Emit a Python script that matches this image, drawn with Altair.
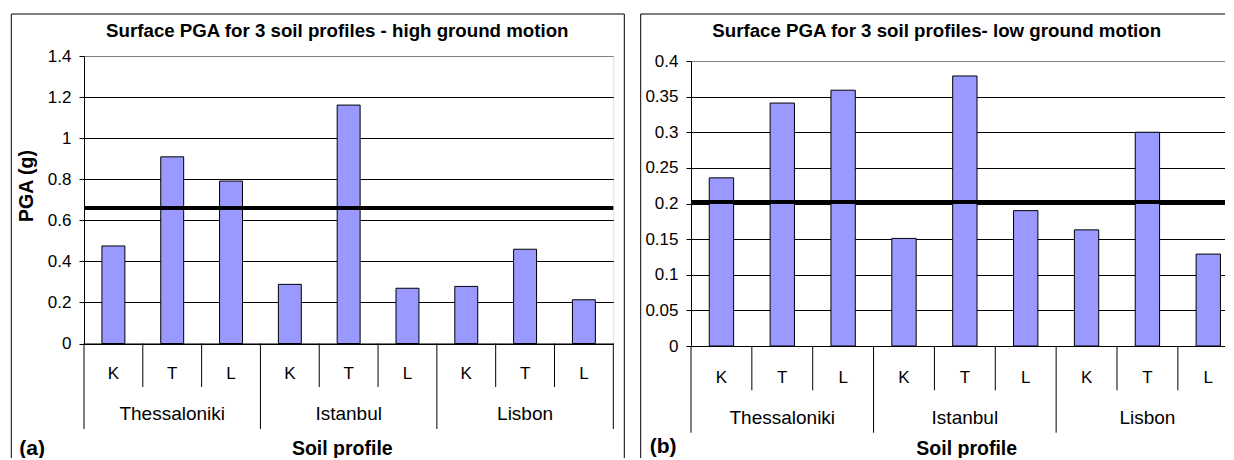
import altair as alt
import pandas as pd

# ---- data ----
cities = ["Thessaloniki", "Istanbul", "Lisbon"]
soils = ["K", "T", "L"]
pga_high = [0.475, 0.909, 0.791, 0.288, 1.161, 0.269, 0.278, 0.459, 0.213]
pga_low = [0.236, 0.341, 0.359, 0.151, 0.379, 0.190, 0.163, 0.300, 0.129]
threshold_high = [0.66]
threshold_low = [0.202]
yticks_high = [0, 0.2, 0.4, 0.6, 0.8, 1.0, 1.2, 1.4]
yticks_low = [0, 0.05, 0.1, 0.15, 0.2, 0.25, 0.3, 0.35, 0.4]
title_high = "Surface PGA for 3 soil profiles - high ground motion"
title_low = "Surface PGA for 3 soil profiles- low ground motion"
x_title = "Soil profile"
y_title = "PGA (g)"

FONT = "Liberation Sans"
BAR = "#9999FF"

cats = [f"{c}|{s}" for c in cities for s in soils]


def panel(values, thr, yticks, title, tag, g):
    W, H = g["W"], g["H"]
    df = pd.DataFrame({
        "cat": cats,
        "city": [c for c in cities for _ in soils],
        "soil": [s for _ in cities for s in soils],
        "pga": values,
    })
    xscale = alt.Scale(domain=cats, paddingInner=0, paddingOuter=0)
    yscale = alt.Scale(domain=[yticks[0], yticks[-1]], nice=False, range=[H, g["top"]])

    xaxis = alt.Axis(
        ticks=False, domain=True, domainColor="black", domainWidth=1,
        labelExpr="split(datum.label, '|')[1]", labelAngle=0,
        labelFontSize=17, labelFont=FONT, labelColor="black",
        labelBaseline="middle", labelPadding=g["lp"], grid=False, title=None,
    )
    yaxis = alt.Axis(
        values=yticks, format="~g", domain=True, domainColor="black",
        ticks=True, tickSize=5, tickColor="black", labelPadding=8,
        labelFontSize=17, labelFont=FONT, labelColor="black",
        grid=True,
        gridColor={"condition": {"test": f"datum.value >= {yticks[-1]}", "value": "#808080"}, "value": "black"},
        gridWidth=1, title=None,
    )

    one = pd.DataFrame({"k": [0]})

    frame = alt.Chart(one).mark_rect(fillOpacity=0, stroke="black", strokeWidth=1).encode(
        x=alt.value(g["fl"]), x2=alt.value(W + g["fr"]),
        y=alt.value(g["ft"]), y2=alt.value(H + g["fb"]),
    )

    bars = alt.Chart(df).mark_bar(
        width=alt.RelativeBandSize(g["bw"]), fill=BAR, stroke="black", strokeWidth=1
    ).encode(
        x=alt.X("cat:N", scale=xscale, axis=xaxis),
        y=alt.Y("pga:Q", scale=yscale, axis=yaxis),
    )

    tdf = pd.DataFrame({"thr": thr})
    thr_rule = alt.Chart(tdf).mark_rule(color="black", strokeWidth=4).encode(
        y=alt.Y("thr:Q", scale=yscale, axis=yaxis),
    )

    inner = df[df["soil"] != soils[0]]
    inner_rules = alt.Chart(inner).mark_rule(color="black", strokeWidth=1).encode(
        x=alt.X("cat:N", scale=xscale, axis=xaxis, bandPosition=0),
        y=alt.value(H), y2=alt.value(H + g["inner"]),
    )
    starts = df[df["soil"] == soils[0]]
    city_rules = alt.Chart(starts).mark_rule(color="black", strokeWidth=1).encode(
        x=alt.X("cat:N", scale=xscale, axis=xaxis, bandPosition=0),
        y=alt.value(H), y2=alt.value(H + g["outer"]),
    )
    ends = df[df["cat"] == cats[-1]]
    end_rule = alt.Chart(ends).mark_rule(color="black", strokeWidth=1).encode(
        x=alt.X("cat:N", scale=xscale, axis=xaxis, bandPosition=1),
        y=alt.value(H), y2=alt.value(H + g["outer"]),
    )
    mids = df[df["soil"] == soils[1]]
    city_text = alt.Chart(mids).mark_text(
        fontSize=19, font=FONT, color="black", baseline="middle", align="center"
    ).encode(
        x=alt.X("cat:N", scale=xscale, axis=xaxis),
        y=alt.value(H + g["cityy"]),
        text="city:N",
    )

    ttl = alt.Chart(one).mark_text(
        text=title, fontSize=18.7, fontWeight="bold", font=FONT, color="black",
        align="center", baseline="middle",
    ).encode(x=alt.value(g["tx"]), y=alt.value(g["ty"]))

    xt = alt.Chart(one).mark_text(
        text=x_title, fontSize=19.5, fontWeight="bold", font=FONT, color="black",
        align="center", baseline="middle",
    ).encode(x=alt.value(g["xtx"]), y=alt.value(H + g["xty"]))

    tg = alt.Chart(one).mark_text(
        text=tag, fontSize=21, fontWeight="bold", font=FONT, color="black",
        align="left", baseline="middle",
    ).encode(x=alt.value(g["tagx"]), y=alt.value(H + g["tagy"]))

    layers = [frame, bars, thr_rule, inner_rules, city_rules, end_rule, city_text, ttl, xt, tg]
    if g.get("ytitle"):
        yt = alt.Chart(one).mark_text(
            text=y_title, fontSize=19.5, fontWeight="bold", font=FONT, color="black",
            align="center", baseline="middle", angle=270,
        ).encode(x=alt.value(g["ytx"]), y=alt.value(g["yty"]))
        layers.append(yt)

    props = dict(width=W, height=H)
    if not g.get("viewstroke"):
        props["view"] = alt.ViewBackground(stroke=None)
    return alt.layer(*layers).properties(**props)


# both plot areas start at the same y; the right one's scale starts 5px lower
g_left = dict(W=529.3, H=287.5, top=0, fl=-72.7, fr=11, ft=-42, fb=127, bw=0.39,
              lp=29.5, inner=43.5, outer=85.5, cityy=70.5,
              tx=253.3, ty=-25, xtx=258.3, xty=105.8, tagx=-64.7, tagy=105,
              ytitle=True, ytx=-56.7, yty=130, viewstroke=True)
g_right = dict(W=547.7, H=290, top=5, fl=-50.3, fr=15, ft=-42, fb=120, bw=0.40,
               lp=31.7, inner=44.3, outer=86.7, cityy=71.7,
               tx=245.7, ty=-25.5, xtx=275.7, xty=103, tagx=-41.3, tagy=100.5)

left = panel(pga_high, threshold_high, yticks_high, title_high, "(a)", g_left)
right = panel(pga_low, threshold_low, yticks_low, title_low, "(b)", g_right)

# negative right/bottom padding crops the parts that run off the page edge
chart = alt.hconcat(left, right, spacing=14).properties(
    padding={"left": 2, "top": 5, "right": -30, "bottom": -14}
).configure_view(stroke="#808080", strokeWidth=1).configure(background="white")

chart.save("out.html", embed_options={"renderer": "svg", "actions": False})
